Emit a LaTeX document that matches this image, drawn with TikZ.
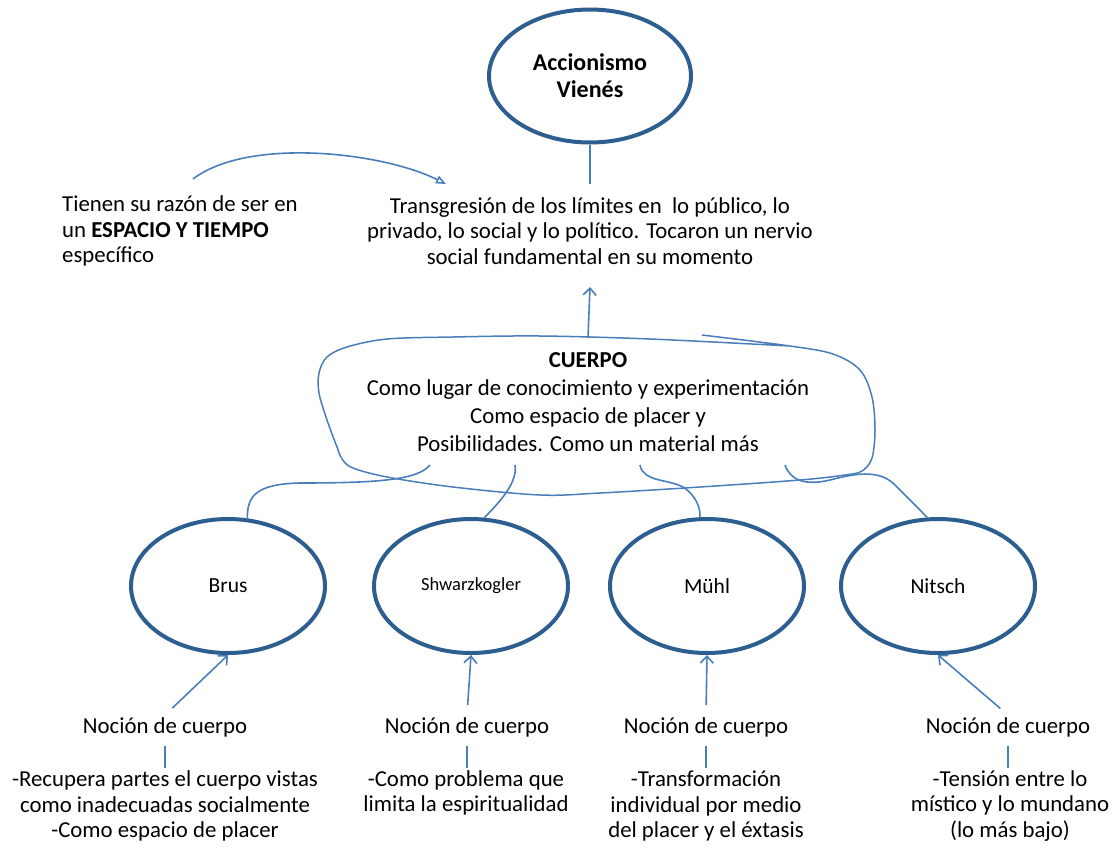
\documentclass[tikz,border=0pt]{standalone}
\usepackage{fontspec}
\setmainfont{Carlito}
\usetikzlibrary{shapes.geometric,arrows.meta,calc}
\definecolor{ringblue}{HTML}{2C5E90}
\definecolor{lineblue}{HTML}{4A7EBB}

\begin{document}
\begin{tikzpicture}[x=1pt,y=-1pt,
  ring/.style={ellipse,draw=ringblue,line width=4pt,minimum width=194pt,
    minimum height=134pt,inner sep=0pt,align=center,
    font=\fontsize{21.5}{25}\selectfont},
  txt/.style={align=center,inner sep=2pt,font=\fontsize{22.8}{25.8}\selectfont},
  conn/.style={draw=lineblue,line width=1.6pt},
  barb/.style={conn,-{Straight Barb[length=7pt,width=13pt,line width=1.6pt]}},
  openarrow/.style={conn,-{Triangle[open,length=10pt,width=8pt,line width=1.6pt]}}
  ]
\useasboundingbox (0,0) rectangle (1112,847);

% title ellipse and the statement below it
\node[ring,minimum width=202pt,minimum height=133pt,
  font=\bfseries\fontsize{24}{27}\selectfont] (av) at (590,76) {Accionismo\\Vienés};
\node[txt] (tr) at (590,231)
  {Transgresión de los límites en \ lo público, lo\\
   privado, lo social y lo político. Tocaron un nervio\\
   social fundamental en su momento};
\node[txt,align=left,anchor=west] (esp) at (60,231)
  {Tienen su razón de ser en\\un \textbf{ESPACIO Y TIEMPO}\\específico};

\draw[conn,shorten >=11pt] (av.south) -- (tr.north);

% curved arrow from the left note to the statement
\coordinate (ca) at (193,179);
\coordinate (cb) at (446,184);
\draw[openarrow] (ca) .. controls (248,137) and (382,152) .. (cb);

% CUERPO block and its hand-drawn outline
\node[txt,font=\fontsize{22.8}{28}\selectfont] (cu) at (588,402)
  {\textbf{CUERPO}\\Como lugar de conocimiento y experimentación\\
   Como espacio de placer y\\Posibilidades. Como un material más};
\draw[conn,line width=1.5pt] plot[smooth,tension=0.55] coordinates {
  (702,335) (790,346) (833,354) (860,370) (872,397) (875,430) (872,458)
  (862,471) (845,475) (800,480) (700,487) (600,493) (540,495) (453,487)
  (387,477) (353,468) (342,459) (337,447) (327,420) (319,393) (319,373)
  (327,357) (347,347) (387,339) (453,337) (540,336) (650,339) (790,346)};

\coordinate (ctop) at (588,338);
\draw[barb] (ctop) -- ($(tr.south)+(0,20)$);

% the four artists
\node[ring] (brus) at (228,586) {Brus};
\node[ring,font=\fontsize{18.5}{21}\selectfont] (shw) at (471,586) {Shwarzkogler};
\node[ring] (muhl) at (707,586) {Mühl};
\node[ring] (nit) at (938,586) {Nitsch};

% links from the outline to each artist
\coordinate (sb) at (430,465);
\coordinate (ss) at (515,465);
\coordinate (sm) at (640,465);
\coordinate (sn) at (785,465);
\draw[conn] (sb) .. controls (418,479) and (385,483) .. (300,483)
  .. controls (256,484) and (247,496) .. (brus.74);
\draw[conn] (ss) .. controls (518,482) and (500,502) .. (shw.79);
\draw[conn] (sm) .. controls (643,482) and (668,479) .. (683,487)
  .. controls (697,496) and (701,510) .. (muhl.96);
\draw[conn] (sn) .. controls (790,480) and (805,486) .. (830,480)
  .. controls (860,472) and (882,470) .. (897,487)
  .. controls (910,500) and (922,512) .. (nit.99);

% notions of the body
\node[txt] (nb) at (165,727) {Noción de cuerpo};
\node[txt] (ns) at (467,727) {Noción de cuerpo};
\node[txt] (nm) at (706,727) {Noción de cuerpo};
\node[txt] (nn) at (1008,727) {Noción de cuerpo};

\draw[barb,shorten <=10pt] (nb.north) -- (brus.south);
\draw[barb,shorten <=10pt] (ns.north) -- (shw.south);
\draw[barb,shorten <=10pt] (nm.north) -- (muhl.south);
\draw[barb,shorten <=10pt] (nn.north) -- (nit.south);

\node[txt] (db) at (165,806)
  {-Recupera partes el cuerpo vistas\\como inadecuadas socialmente\\-Como espacio de placer};
\node[txt] (ds) at (466,793)
  {-Como problema que\\limita la espiritualidad};
\node[txt] (dm) at (706,806)
  {-Transformación\\individual por medio\\del placer y el éxtasis};
\node[txt] (dn) at (1010,806)
  {-Tensión entre lo\\místico y lo mundano\\(lo más bajo)};

\draw[conn,shorten <=7pt] (nb.south) -- (nb.south |- db.north);
\draw[conn,shorten <=7pt] (ns.south) -- (ns.south |- ds.north);
\draw[conn,shorten <=7pt] (nm.south) -- (nm.south |- dm.north);
\draw[conn,shorten <=7pt] (nn.south) -- (nn.south |- dn.north);
\end{tikzpicture}
\end{document}
